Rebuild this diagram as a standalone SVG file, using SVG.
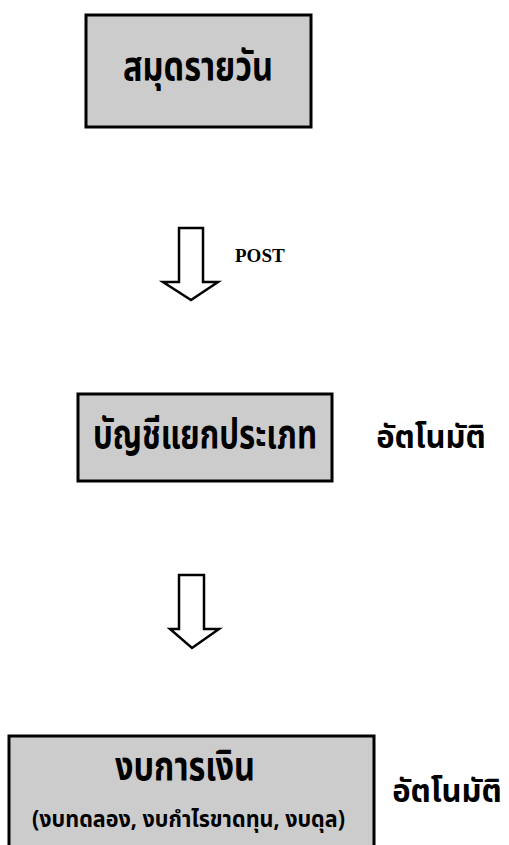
<svg xmlns="http://www.w3.org/2000/svg" width="509" height="845" viewBox="0 0 509 845">
<style>
.box{fill:#cccccc;stroke:#000;stroke-width:3}
.th{font-family:"Noto Sans Thai","Noto Serif Thai","Liberation Serif","Noto Sans",serif;font-weight:bold;fill:#000;text-anchor:middle}
.lbl{font-family:"Liberation Serif",serif;font-weight:bold;fill:#000}
.arrow{fill:#fff;stroke:#000;stroke-width:2.5;stroke-linejoin:miter}
</style>
<rect width="509" height="845" fill="#fff"/>
<g id="node-journal">
<rect class="box" x="86" y="15" width="225" height="112"/>
<text class="th" x="198" y="80" font-size="40" textLength="150" lengthAdjust="spacingAndGlyphs">สมุดรายวัน</text>
</g>
<g id="node-ledger">
<rect class="box" x="78" y="394" width="254" height="87"/>
<text class="th" x="205" y="448" font-size="40" textLength="224" lengthAdjust="spacingAndGlyphs">บัญชีแยกประเภท</text>
<text class="th" x="431" y="448" font-size="31">อัตโนมัติ</text>
</g>
<g id="node-statements">
<rect class="box" x="9" y="736" width="365" height="115"/>
<text class="th" x="185" y="780" font-size="40" textLength="140" lengthAdjust="spacingAndGlyphs">งบการเงิน</text>
<text class="th" x="188.5" y="827" font-size="23" textLength="313" lengthAdjust="spacingAndGlyphs">(งบทดลอง, งบกำไรขาดทุน, งบดุล)</text>
<text class="th" x="447" y="802" font-size="31">อัตโนมัติ</text>
</g>
<g id="connectors">
<path class="arrow" d="M179 228 H203 V282 H218 L191 300 L163 282 H179 Z"/>
<text class="lbl" x="235" y="262" font-size="19">POST</text>
<path class="arrow" d="M179 575 H204 V629 H219 L192 648 L170 629 H179 Z"/>
</g>
</svg>
